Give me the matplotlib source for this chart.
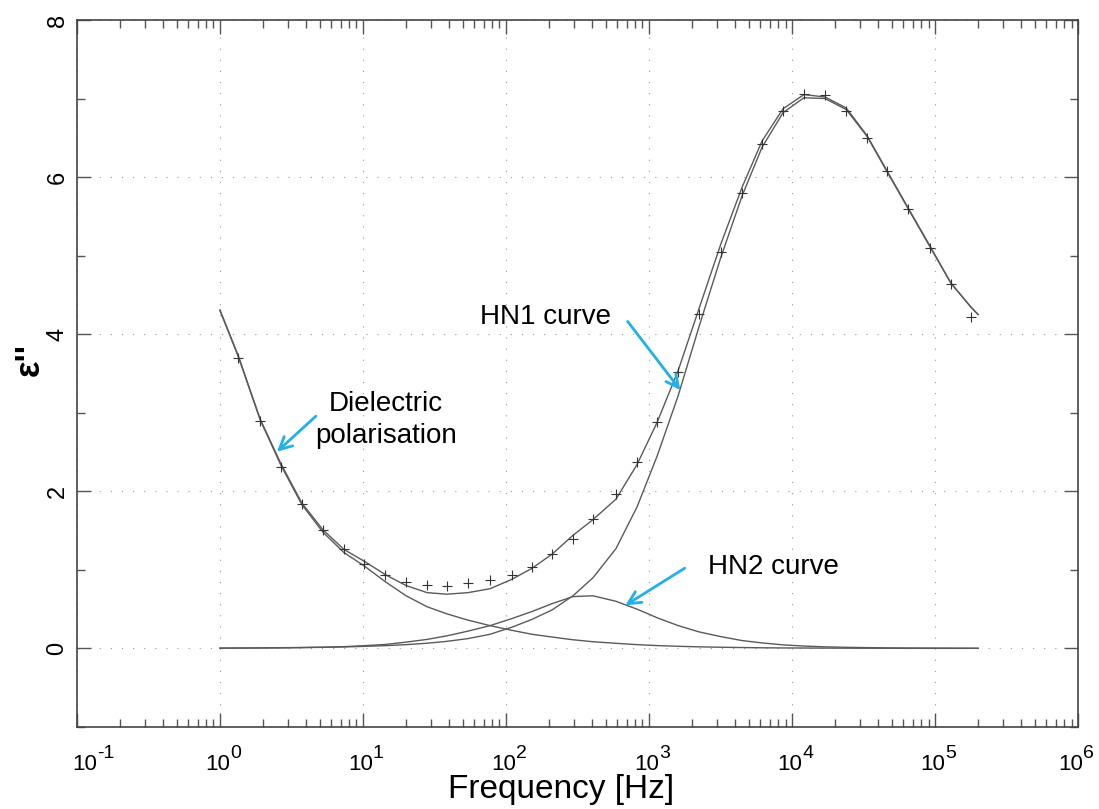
import matplotlib
matplotlib.use('Agg')
import matplotlib.pyplot as plt
import matplotlib.transforms as mtransforms
from matplotlib.ticker import LogLocator, MultipleLocator, NullFormatter

plt.rcParams['font.family'] = ['Liberation Sans', 'DejaVu Sans']
plt.rcParams['axes.unicode_minus'] = False

# frequencies of the fitted curves [Hz]
freq_fit = [1, 1.34, 1.91, 2.67, 3.74, 5.25, 7.36, 10.2, 14.3, 20.0, 28.1, 38.6,
            54.2, 77.3, 110, 152, 210, 294, 406, 587, 824, 1140, 1600, 2240,
            3180, 4470, 6170, 8650, 12100, 17000, 23900, 33400, 46100, 64700,
            92300, 129000, 179000, 200000]

# total fit
eps_total = [4.31, 3.73, 2.92, 2.35, 1.85, 1.51, 1.26, 1.11, 0.94, 0.80, 0.71, 0.69,
             0.71, 0.76, 0.88, 1.02, 1.20, 1.44, 1.64, 1.90, 2.34, 2.88, 3.54, 4.33,
             5.15, 5.87, 6.46, 6.87, 7.05, 7.02, 6.88, 6.53, 6.08, 5.61, 5.12, 4.65,
             4.34, 4.25]

# dielectric polarisation term
eps_pol = [4.30, 3.72, 2.91, 2.33, 1.83, 1.48, 1.22, 1.05, 0.85, 0.67, 0.53, 0.44,
           0.36, 0.29, 0.23, 0.18, 0.145, 0.11, 0.085, 0.065, 0.048, 0.036, 0.027,
           0.02, 0.015, 0.011, 0.008, 0.006, 0.005, 0.004, 0.003, 0.002, 0.002,
           0.001, 0.001, 0.001, 0.001, 0.001]

# HN1 relaxation
eps_hn1 = [0.003, 0.004, 0.005, 0.007, 0.010, 0.014, 0.019, 0.026, 0.035, 0.048,
           0.066, 0.09, 0.125, 0.18, 0.27, 0.37, 0.49, 0.67, 0.90, 1.27, 1.80, 2.45,
           3.22, 4.10, 4.98, 5.76, 6.38, 6.82, 7.01, 7.00, 6.86, 6.52, 6.07, 5.60,
           5.11, 4.65, 4.34, 4.25]

# HN2 relaxation
eps_hn2 = [0.004, 0.005, 0.007, 0.009, 0.012, 0.016, 0.022, 0.035, 0.05, 0.08,
           0.115, 0.16, 0.22, 0.29, 0.38, 0.47, 0.57, 0.66, 0.67, 0.60, 0.50, 0.39,
           0.29, 0.21, 0.15, 0.10, 0.07, 0.045, 0.03, 0.02, 0.014, 0.01, 0.007,
           0.005, 0.004, 0.003, 0.002, 0.002]

# measured points
freq_meas = [1.34, 1.91, 2.67, 3.74, 5.25, 7.36, 10.2, 14.3, 20.0, 28.1, 38.6,
             54.2, 77.3, 110, 152, 210, 294, 406, 587, 824, 1140, 1600, 2240,
             3180, 4470, 6170, 8650, 12100, 17000, 23900, 33400, 46100, 64700,
             92300, 129000, 179000]
eps_meas = [3.70, 2.89, 2.31, 1.84, 1.51, 1.26, 1.07, 0.94, 0.85, 0.81, 0.80, 0.83,
            0.87, 0.94, 1.04, 1.20, 1.39, 1.65, 1.96, 2.37, 2.88, 3.52, 4.26, 5.05,
            5.80, 6.42, 6.84, 7.06, 7.05, 6.84, 6.50, 6.08, 5.60, 5.10, 4.64, 4.22]

# x tick decades and their exponent text
decades = [-1, 0, 1, 2, 3, 4, 5, 6]
exp_labels = ['-1', '0', '1', '2', '3', '4', '5', '6']

line_col = '#5a5a5a'
arrow_col = '#22b0e8'

fig = plt.figure(figsize=(10.99, 8.09), dpi=100)
ax = fig.add_axes([0.070, 0.1014, 0.911, 0.8739])

ax.plot(freq_fit, eps_pol, color=line_col, lw=1.0)
ax.plot(freq_fit, eps_hn2, color=line_col, lw=1.0)
ax.plot(freq_fit, eps_hn1, color=line_col, lw=1.0)
ax.plot(freq_fit, eps_total, color=line_col, lw=1.0)
ax.plot(freq_meas, eps_meas, ls='none', marker='+', ms=7.5, mew=0.8, color='#333333')

ax.set_xscale('log')
ax.set_xlim(1e-1, 1e6)
ax.set_ylim(-1, 8)
ax.xaxis.set_major_locator(LogLocator(base=10, numticks=10))
ax.xaxis.set_minor_locator(LogLocator(base=10, subs=range(2, 10), numticks=100))
ax.xaxis.set_major_formatter(NullFormatter())
ax.xaxis.set_minor_formatter(NullFormatter())
ax.yaxis.set_major_locator(MultipleLocator(2))
ax.yaxis.set_minor_locator(MultipleLocator(1))

ax.grid(True, which='major', color='#9a9a9a', lw=0.8, ls=(0, (1, 9)))
ax.tick_params(which='both', direction='in', top=True, right=True,
               color='#555555', width=1.0)
ax.tick_params(which='major', length=10)
ax.tick_params(which='minor', length=5.5)
ax.tick_params(axis='y', labelsize=17, pad=6)
for lab in ax.get_yticklabels():
    lab.set_rotation(90)
    lab.set_va('center')
for sp in ax.spines.values():
    sp.set_color('#444444')
    sp.set_linewidth(1.2)

# x tick labels: "10" with a large exponent, like the original
blend = mtransforms.blended_transform_factory(ax.transData, ax.transAxes)
for d, e in zip(decades, exp_labels):
    shift = 10
    if d == -1:
        shift = 20
    if d == 6:
        shift = 5
    tr = blend + mtransforms.ScaledTranslation(shift / 100, 0, fig.dpi_scale_trans)
    ax.text(10.0 ** d, -0.061, '10', transform=tr, fontsize=16, ha='right',
            va='baseline', clip_on=False)
    ax.text(10.0 ** d, -0.044, e, transform=tr, fontsize=14, ha='left',
            va='baseline', clip_on=False)

ax.set_xlabel('Frequency [Hz]', fontsize=24)
ax.xaxis.set_label_coords(0.484, -0.067)
ax.set_ylabel("ε''", fontsize=25, fontweight='bold')
ax.yaxis.set_label_coords(-0.031, 0.52)

arrow_kw = dict(arrowstyle='->,head_length=0.9,head_width=0.45', color=arrow_col, lw=2)
ax.annotate('', xy=(2.42, 2.48), xytext=(4.84, 2.98), arrowprops=arrow_kw)
ax.annotate('', xy=(1702, 3.26), xytext=(690, 4.19), arrowprops=arrow_kw)
ax.annotate('', xy=(658, 0.53), xytext=(1845, 1.04), arrowprops=arrow_kw)

ax.text(14.5, 2.91, 'Dielectric\npolarisation', fontsize=20, ha='center', va='center',
        linespacing=1.3)
ax.text(190, 4.22, 'HN1 curve', fontsize=20, ha='center', va='center')
ax.text(7360, 1.04, 'HN2 curve', fontsize=20, ha='center', va='center')

fig.savefig('out.png', dpi=100)
